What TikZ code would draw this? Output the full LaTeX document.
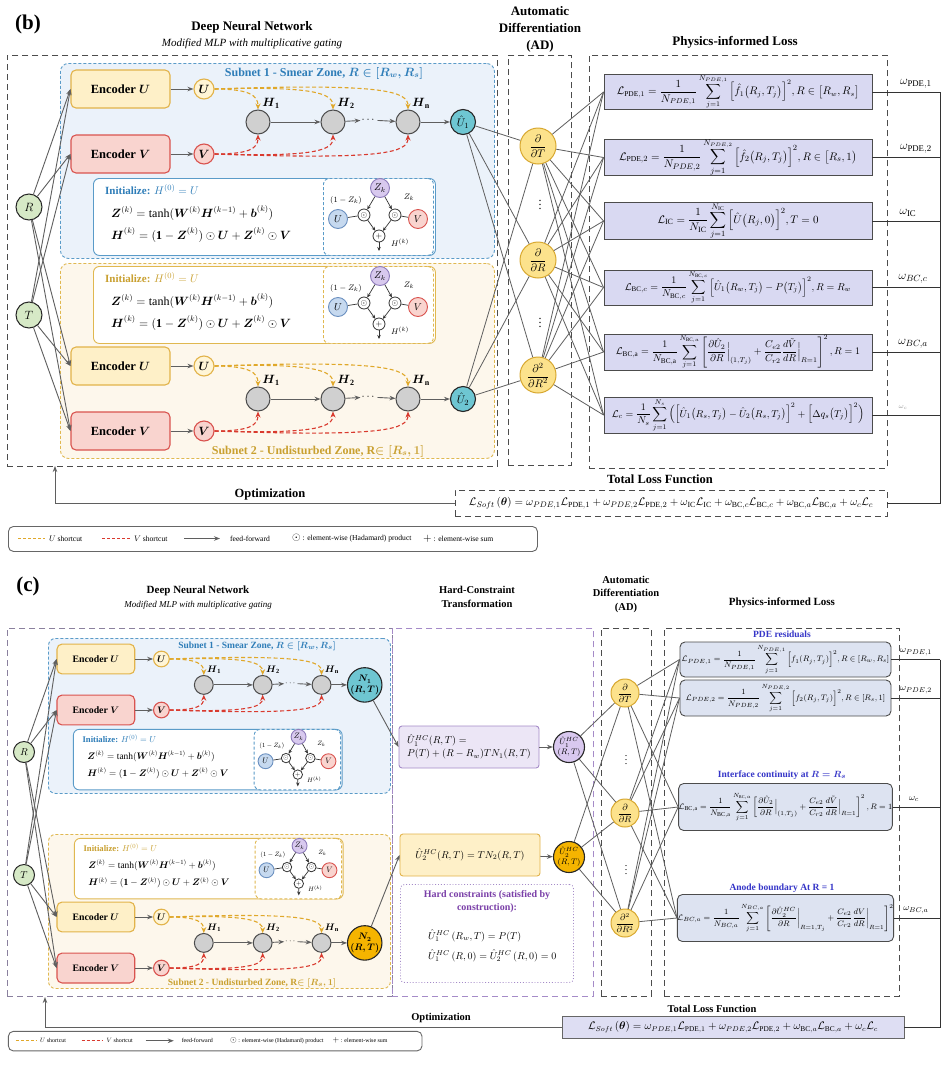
\documentclass[tikz,border=0pt]{standalone}
\usepackage{amsmath,amssymb}
\usepackage{fontspec}
\setmainfont{Liberation Serif}
\usetikzlibrary{arrows.meta,calc}

\definecolor{encUfill}{HTML}{FEF0C8}
\definecolor{encUdraw}{HTML}{E2B34A}
\definecolor{ucfill}{HTML}{FFF5D6}
\definecolor{encVfill}{HTML}{F9D4CF}
\definecolor{encVdraw}{HTML}{D9534F}
\definecolor{sub1fill}{HTML}{EBF2FA}
\definecolor{sub1draw}{HTML}{5A9BC8}
\definecolor{sub1text}{HTML}{2E7DB8}
\definecolor{sub2fill}{HTML}{FDF7EC}
\definecolor{sub2draw}{HTML}{E0B850}
\definecolor{sub2text}{HTML}{C9A030}
\definecolor{hgray}{HTML}{D0D0D0}
\definecolor{teal1}{HTML}{6EC6D2}
\definecolor{adfill}{HTML}{FCE28C}
\definecolor{addraw}{HTML}{D8A830}
\definecolor{lossbfill}{HTML}{D9D9F2}
\definecolor{losscfill}{HTML}{DDE3F1}
\definecolor{zfill}{HTML}{D8C9EE}
\definecolor{zdraw}{HTML}{8E7CBB}
\definecolor{gufill}{HTML}{C6D9EF}
\definecolor{gudraw}{HTML}{6B90C0}
\definecolor{ushort}{HTML}{E0A82A}
\definecolor{vshort}{HTML}{D93A2E}
\definecolor{linegray}{HTML}{5F5F5F}
\definecolor{hcpurple}{HTML}{A58BC8}
\definecolor{hcfill}{HTML}{ECE6F6}
\definecolor{hccirc}{HTML}{D9C8EF}
\definecolor{orangeN}{HTML}{F5B400}
\definecolor{headblue}{HTML}{3535C8}
\definecolor{hcttl}{HTML}{7A3FA8}
\definecolor{totcfill}{HTML}{DEDEF3}
\definecolor{dnncdraw}{HTML}{8A809E}
\definecolor{rtfill}{HTML}{D6E9C6}

\tikzset{
 conn/.style={draw=linegray, line width=0.8pt},
 ffarrow/.style={draw=linegray, line width=0.9pt, -{Stealth[length=6pt,width=4.5pt]}},
 ushortline/.style={draw=ushort, line width=1.1pt, dash pattern=on 4pt off 2.5pt, -{Stealth[length=6pt,width=5pt]}},
 vshortline/.style={draw=vshort, line width=1.1pt, dash pattern=on 4pt off 2.5pt, -{Stealth[length=6pt,width=5pt]}},
 encbox/.style={rounded corners=5pt, line width=1.1pt, minimum width=99pt, minimum height=38pt, inner sep=0pt, font=\fontsize{12.5}{14}\selectfont\bfseries},
 encU/.style={encbox, draw=encUdraw, fill=encUfill},
 encV/.style={encbox, draw=encVdraw, fill=encVfill},
 uvc/.style={circle, minimum size=20pt, inner sep=0pt, line width=1.1pt, font=\fontsize{12}{12}\selectfont},
 ucirc/.style={uvc, draw=encUdraw, fill=ucfill},
 vcirc/.style={uvc, draw=encVdraw, fill=encVfill},
 hnode/.style={circle, minimum size=24pt, inner sep=0pt, draw=black!70, fill=hgray, line width=1pt},
 hlabel/.style={font=\fontsize{12}{12}\selectfont, inner sep=0pt},
 dotsnode/.style={inner sep=1pt, font=\fontsize{11}{11}\selectfont},
 outb/.style={circle, minimum size=25pt, inner sep=0pt, draw=black!85, fill=teal1, line width=1.1pt, font=\fontsize{11}{11}\selectfont},
 outc1/.style={circle, minimum size=36pt, inner sep=0pt, draw=black!85, fill=teal1, line width=1.1pt, align=center, font=\fontsize{12}{13}\selectfont},
 outc2/.style={outc1, fill=orangeN},
 initbox/.style={rounded corners=6pt, fill=white, line width=0.9pt, minimum width=342pt, minimum height=77pt},
 gatebox/.style={rounded corners=6pt, fill=white, line width=0.9pt, dash pattern=on 3pt off 2pt, minimum width=110pt, minimum height=77pt},
 inittxt/.style={inner sep=0pt, font=\fontsize{11}{12}\selectfont},
 eqtxt/.style={inner sep=0pt, font=\fontsize{12}{13}\selectfont},
 gcirc/.style={circle, minimum size=19pt, inner sep=0pt, line width=0.9pt, font=\fontsize{10}{10}\selectfont},
 gz/.style={gcirc, draw=zdraw, fill=zfill},
 gu/.style={gcirc, draw=gudraw, fill=gufill},
 gv/.style={gcirc, draw=encVdraw, fill=encVfill},
 gop/.style={circle, minimum size=12pt, inner sep=0pt, draw=black!80, fill=white, line width=0.8pt, font=\fontsize{8}{8}\selectfont},
 gsmall/.style={inner sep=0pt, font=\fontsize{8}{8}\selectfont},
 garrow/.style={draw=black!80, line width=0.7pt, -{Stealth[length=4pt,width=3.5pt]}},
 gline/.style={draw=black!80, line width=0.7pt},
 rtnode/.style={circle, minimum size=26pt, inner sep=0pt, draw=black!85, fill=rtfill, line width=1pt, font=\fontsize{12}{12}\selectfont},
 dashbox/.style={draw=black!70, line width=0.9pt, dash pattern=on 6pt off 4pt},
 ttl/.style={inner sep=0pt, font=\fontsize{13}{17}\selectfont\bfseries, align=center},
 subttl/.style={inner sep=0pt, font=\fontsize{11}{12}\selectfont\itshape},
 panlbl/.style={inner sep=0pt, font=\fontsize{21}{22}\selectfont\bfseries},
 adnode/.style={circle, minimum size=36pt, inner sep=0pt, draw=addraw, fill=adfill, line width=1pt, font=\fontsize{11}{11}\selectfont},
 lossb/.style={draw=black!70, fill=lossbfill, line width=0.9pt, minimum width=268pt, inner sep=0pt},
 lossc/.style={draw=black!70, fill=losscfill, line width=0.9pt, rounded corners=5pt, minimum width=211pt, inner sep=0pt, font=\fontsize{8.5}{9}\selectfont},
 wlabel/.style={inner sep=0pt, font=\fontsize{12.5}{12.5}\selectfont},
 legbox/.style={draw=black!60, line width=0.9pt, rounded corners=5pt, minimum width=529pt, minimum height=25pt, fill=white},
 legtxt/.style={inner sep=0pt, font=\fontsize{7.6}{8}\selectfont},
 boldlbl/.style={inner sep=0pt, font=\fontsize{12.5}{13}\selectfont\bfseries},
}

\newcommand{\SubnetRow}[6]{%
\begin{scope}[shift={(#2,#3)},scale=#4,transform shape]
\node[encU] (#1eu) at (49.5,0) {Encoder $\boldsymbol{U}$};
\node[encV] (#1ev) at (49.5,65) {Encoder $\boldsymbol{V}$};
\node[ucirc] (#1u) at (133,0) {$\boldsymbol{U}$};
\node[vcirc] (#1v) at (133,65) {$\boldsymbol{V}$};
\node[hnode] (#1h1) at (187,33) {};
\node[hnode] (#1h2) at (262,33) {};
\node[hnode] (#1hn) at (337,33) {};
\node[dotsnode] (#1dots) at (298,31) {$\cdots$};
\node[#5] (#1out) at (392,33) {#6};
\node[hlabel] (#1l1) at (200,14) {$\boldsymbol{H}_{\mathbf{1}}$};
\node[hlabel] (#1l2) at (275,14) {$\boldsymbol{H}_{\mathbf{2}}$};
\node[hlabel] (#1ln) at (350,14) {$\boldsymbol{H}_{\mathbf{n}}$};
\draw[ffarrow] (#1eu) -- (#1u);
\draw[ffarrow] (#1ev) -- (#1v);
\draw[ffarrow] (#1h1) -- (#1h2);
\draw[ffarrow] (#1h2) -- (#1dots);
\draw[ffarrow] (#1dots) -- (#1hn);
\draw[ffarrow] (#1hn) -- (#1out);
\draw[ushortline] (#1u.east) .. controls +(35,0) and +(0,-14) .. (#1h1.north);
\draw[ushortline] (#1u.east) .. controls +(100,-3) and +(0,-16) .. (#1h2.north);
\draw[ushortline] (#1u.east) .. controls +(170,-6) and +(0,-18) .. (#1hn.north);
\draw[vshortline] (#1v.east) .. controls +(35,0) and +(0,14) .. (#1h1.south);
\draw[vshortline] (#1v.east) .. controls +(100,3) and +(0,16) .. (#1h2.south);
\draw[vshortline] (#1v.east) .. controls +(170,6) and +(0,18) .. (#1hn.south);
\end{scope}}

\newcommand{\InitBlock}[6]{%
\begin{scope}[shift={(#2,#3)},scale=#4,transform shape]
\node[initbox,draw=#5,anchor=north west] (#1box) at (0,0) {};
\node[gatebox,draw=#5,anchor=north west] (#1gbox) at (230,0) {};
\node[inittxt,anchor=west] (#1ttl) at (12,12) {\textcolor{#6}{\textbf{Initialize:} $H^{(0)}=U$}};
\node[eqtxt,anchor=west] (#1eqa) at (18,35) {$\boldsymbol{Z}^{(k)}=\tanh(\boldsymbol{W}^{(k)}\boldsymbol{H}^{(k-1)}+\boldsymbol{b}^{(k)})$};
\node[eqtxt,anchor=west] (#1eqb) at (18,57) {$\boldsymbol{H}^{(k)}=(\mathbf{1}-\boldsymbol{Z}^{(k)})\odot\boldsymbol{U}+\boldsymbol{Z}^{(k)}\odot\boldsymbol{V}$};
\node[gz] (#1z) at (287,10) {$Z_k$};
\node[gu] (#1u) at (245,41) {$U$};
\node[gv] (#1v) at (325,41) {$V$};
\node[gop] (#1ol) at (271,37) {$\odot$};
\node[gop] (#1or) at (302,37) {$\odot$};
\node[gop] (#1pl) at (286,58) {$+$};
\coordinate (#1end) at (286,73);
\node[gsmall] (#1lz1) at (253,22) {$(1-Z_k)$};
\node[gsmall] (#1lz2) at (316,19) {$Z_k$};
\node[gsmall] (#1lh) at (307,65) {$H^{(k)}$};
\draw[garrow] (#1z) -- (#1ol);
\draw[garrow] (#1z) -- (#1or);
\draw[gline] (#1u) -- (#1ol);
\draw[gline] (#1v) -- (#1or);
\draw[garrow] (#1ol) -- (#1pl);
\draw[garrow] (#1or) -- (#1pl);
\draw[garrow] (#1pl) -- (#1end);
\end{scope}}

\newcommand{\LegendRow}[4]{%
\begin{scope}[shift={(#2,#3)},scale=#4,transform shape]
\node[legbox,anchor=north west] (#1box) at (0,0) {};
\coordinate (#1ua) at (10,12.5);
\coordinate (#1ub) at (37,12.5);
\draw[draw=ushort, line width=0.9pt, dash pattern=on 3pt off 2pt] (#1ua) -- (#1ub);
\node[legtxt,anchor=west] (#1ut) at (41,12.5) {$U$ shortcut};
\coordinate (#1va) at (94,12.5);
\coordinate (#1vb) at (122,12.5);
\draw[draw=vshort, line width=0.9pt, dash pattern=on 3pt off 2pt] (#1va) -- (#1vb);
\node[legtxt,anchor=west] (#1vt) at (126,12.5) {$V$ shortcut};
\coordinate (#1fa) at (176,12.5);
\coordinate (#1fb) at (212,12.5);
\draw[ffarrow] (#1fa) -- (#1fb);
\node[legtxt,anchor=west] (#1ft) at (222,12.5) {feed-forward};
\node[legtxt,anchor=west] (#1pt) at (284,12.5) {{\fontsize{11}{11}\selectfont$\odot$} : element-wise (Hadamard) product};
\node[legtxt,anchor=west] (#1st) at (415,12.5) {{\fontsize{11}{11}\selectfont$+$} : element-wise sum};
\end{scope}}

\begin{document}
\begin{tikzpicture}[x=1pt,y=-1pt]
\useasboundingbox (0,0) rectangle (948,1074);
\fill[white] (0,0) rectangle (948,1074);

% ================= PANEL (b) =================
\node[panlbl] (lblb) at (28,24) {(b)};
\node[ttl] (dnnttlb) at (252,27) {Deep Neural Network};
\node[subttl] (dnnsubb) at (252,44) {Modified MLP with multiplicative gating};
\node[ttl] (adttlb) at (540,29) {Automatic\\Differentiation\\(AD)};
\node[ttl] (pilttlb) at (735,42) {Physics-informed Loss};

\node[dashbox,anchor=north west,minimum width=490pt,minimum height=411pt] (dnnb) at (7,55) {};
\node[dashbox,anchor=north west,minimum width=63pt,minimum height=410pt] (adb) at (508,55) {};
\node[dashbox,anchor=north west,minimum width=298pt,minimum height=413pt] (pilb) at (589,55) {};

\node[draw=sub1draw,fill=sub1fill,line width=0.9pt,dash pattern=on 3pt off 2pt,rounded corners=8pt,anchor=north west,minimum width=434pt,minimum height=195pt] (sub1b) at (60,63) {};
\node[draw=sub2draw,fill=sub2fill,line width=0.9pt,dash pattern=on 3pt off 2pt,rounded corners=8pt,anchor=north west,minimum width=434pt,minimum height=195pt] (sub2b) at (60,263) {};
\node[inner sep=0pt,font=\fontsize{12}{12}\selectfont\bfseries,text=sub1text] (sub1bt) at (324,73) {Subnet 1 - Smear Zone, $\boldsymbol{R\in[R_w,R_s]}$};
\node[inner sep=0pt,font=\fontsize{12}{12}\selectfont\bfseries,text=sub2text] (sub2bt) at (318,451) {Subnet 2 - Undisturbed Zone, R$\boldsymbol{\in[R_s,1]}$};

\SubnetRow{bA}{71}{89}{1}{outb}{$\hat{U}_1$}
\SubnetRow{bB}{71}{366}{1}{outb}{$\hat{U}_2$}
\InitBlock{biA}{93}{178}{1}{sub1draw}{sub1text}
\InitBlock{biB}{93}{266}{1}{sub2draw}{sub2text}

\node[rtnode] (Rb) at (29,207) {$R$};
\node[rtnode] (Tb) at (29,315) {$T$};
\foreach \s in {Rb,Tb} \foreach \e in {bAeu,bAev,bBeu,bBev} \draw[ffarrow] (\s) -- (\e.west);

\node[adnode] (adTb) at (538,146) {$\dfrac{\partial}{\partial T}$};
\node[adnode] (adRb) at (538,260) {$\dfrac{\partial}{\partial R}$};
\node[adnode] (adRRb) at (538,375) {$\dfrac{\partial^2}{\partial R^2}$};
\node[inner sep=0pt,font=\fontsize{12}{12}\selectfont] (vdAb) at (540,202) {$\vdots$};
\node[inner sep=0pt,font=\fontsize{12}{12}\selectfont] (vdBb) at (540,320) {$\vdots$};
\foreach \o in {bAout,bBout} \foreach \a in {adTb,adRb,adRRb} \draw[conn] (\o) -- (\a);

\node[lossb,minimum height=28pt,font=\fontsize{10.6}{11}\selectfont] (lbA) at (738,92) {$\displaystyle \mathcal{L}_{\mathrm{PDE},1}=\frac{1}{N_{PDE,1}}\sum_{j=1}^{N_{PDE,1}}\Big[\hat{f}_1\big(R_j,T_j\big)\Big]^2,R\in\big[R_w,R_s\big]$};
\node[lossb,minimum height=29pt,font=\fontsize{10.8}{11}\selectfont] (lbB) at (738,157.5) {$\displaystyle \mathcal{L}_{\mathrm{PDE},2}=\frac{1}{N_{PDE,2}}\sum_{j=1}^{N_{PDE,2}}\Big[\hat{f}_2\big(R_j,T_j\big)\Big]^2,R\in\big[R_s,1\big)$};
\node[lossb,minimum height=26pt,font=\fontsize{11.4}{12}\selectfont] (lbC) at (738,221) {$\displaystyle \mathcal{L}_{\mathrm{IC}}=\frac{1}{N_{\mathrm{IC}}}\sum_{j=1}^{N_{\mathrm{IC}}}\Big[\hat{U}\big(R_j,0\big)\Big]^2,T=0$};
\node[lossb,minimum height=35pt,font=\fontsize{10}{11}\selectfont] (lbD) at (738,287.5) {$\displaystyle \mathcal{L}_{\mathrm{BC},c}=\frac{1}{N_{\mathrm{BC},c}}\sum_{j=1}^{N_{\mathrm{BC},c}}\Big[\hat{U}_1\big(R_w,T_j\big)-P\big(T_j\big)\Big]^2,R=R_w$};
\node[lossb,minimum height=36pt,font=\fontsize{10.3}{11}\selectfont] (lbE) at (738,352) {$\displaystyle \mathcal{L}_{\mathrm{BC,a}}=\frac{1}{N_{\mathrm{BC,a}}}\sum_{j=1}^{N_{\mathrm{BC},a}}\left[\frac{\partial\hat{U}_2}{\partial R}\Big|_{(1,T_j)}+\frac{C_{e2}}{C_{r2}}\frac{d\tilde{V}}{dR}\Big|_{R=1}\right]^2,R=1$};
\node[lossb,minimum height=36pt,font=\fontsize{10.2}{11}\selectfont] (lbF) at (738,415) {$\displaystyle \mathcal{L}_{c}=\frac{1}{N_s}\sum_{j=1}^{N_s}\Big(\Big[\hat{U}_1\big(R_s,T_j\big)-\hat{U}_2\big(R_s,T_j\big)\Big]^2+\Big[\Delta q_s\big(T_j\big)\Big]^2\Big)$};

\foreach \a in {adTb,adRb,adRRb} \foreach \l in {lbA,lbB,lbC,lbD,lbE,lbF} \draw[conn] (\a) -- (\l.west);

\coordinate (busbt) at (940,92);
\coordinate (busbb) at (940,503);
\foreach \l in {lbA,lbB,lbC,lbD,lbE,lbF} \draw[conn,draw=black!80] (\l.east) -- (\l.east -| busbt);
\node[wlabel] (wbA) at (916,84) {$\omega_{\mathrm{PDE},1}$};
\node[wlabel] (wbB) at (916,149) {$\omega_{\mathrm{PDE},2}$};
\node[wlabel] (wbC) at (908,213) {$\omega_{\mathrm{IC}}$};
\node[wlabel] (wbD) at (913,279) {$\omega_{BC,c}$};
\node[wlabel] (wbE) at (913,344) {$\omega_{BC,a}$};
\node[wlabel,text=black!40,font=\fontsize{7}{7}\selectfont] (wbF) at (903,407) {$\omega_c$};

\node[boldlbl] (totttlb) at (660,479) {Total Loss Function};
\node[draw=black!70,dash pattern=on 6pt off 4pt,line width=0.9pt,fill=white,minimum width=432pt,minimum height=26pt,inner sep=0pt,font=\fontsize{11.2}{12}\selectfont] (totb) at (671,503) {$\mathcal{L}_{Soft}\left(\boldsymbol{\theta}\right)=\omega_{PDE,1}\mathcal{L}_{\mathrm{PDE},1}+\omega_{PDE,2}\mathcal{L}_{\mathrm{PDE},2}+\omega_{\mathrm{IC}}\mathcal{L}_{\mathrm{IC}}+\omega_{\mathrm{BC},c}\mathcal{L}_{\mathrm{BC},c}+\omega_{\mathrm{BC},a}\mathcal{L}_{\mathrm{BC},a}+\omega_c\mathcal{L}_c$};
\draw[conn,draw=black!80] (busbt) -- (busbb) -- (totb.east);
\coordinate (optbend) at (55,466);
\draw[ffarrow] (totb.west) -| (optbend);
\node[boldlbl] (optlb) at (270,494) {Optimization};

\LegendRow{lgb}{8}{526}{1}

% ================= PANEL (c) =================
\node[panlbl] (lblc) at (28,586) {(c)};
\node[ttl,font=\fontsize{11}{13}\selectfont\bfseries] (dnnttlc) at (198,591) {Deep Neural Network};
\node[subttl,font=\fontsize{9}{10}\selectfont\itshape] (dnnsubc) at (198,605) {Modified MLP with multiplicative gating};
\node[ttl,font=\fontsize{10.5}{14}\selectfont\bfseries] (hcttlc) at (477,597) {Hard-Constraint\\Transformation};
\node[ttl,font=\fontsize{10.5}{13.5}\selectfont\bfseries] (adttlc) at (626,594) {Automatic\\Differentiation\\(AD)};
\node[ttl,font=\fontsize{11}{13}\selectfont\bfseries] (pilttlc) at (782,603) {Physics-informed Loss};

\node[dashbox,draw=dnncdraw,anchor=north west,minimum width=385pt,minimum height=368pt] (dnnc) at (7,628) {};
\node[dashbox,draw=hcpurple,anchor=north west,minimum width=201pt,minimum height=368pt] (hcc) at (392,628) {};
\node[dashbox,anchor=north west,minimum width=50pt,minimum height=368pt] (adc) at (601,628) {};
\node[dashbox,anchor=north west,minimum width=235pt,minimum height=368pt] (pilc) at (664,628) {};

\node[draw=sub1draw,fill=sub1fill,line width=0.9pt,dash pattern=on 3pt off 2pt,rounded corners=7pt,anchor=north west,minimum width=342pt,minimum height=155pt] (sub1c) at (48,638) {};
\node[draw=sub2draw,fill=sub2fill,line width=0.9pt,dash pattern=on 3pt off 2pt,rounded corners=7pt,anchor=north west,minimum width=342pt,minimum height=154pt] (sub2c) at (48,834) {};
\node[inner sep=0pt,font=\fontsize{9.5}{10}\selectfont\bfseries,text=sub1text] (sub1ct) at (257,646) {Subnet 1 - Smear Zone, $\boldsymbol{R\in[R_w,R_s]}$};
\node[inner sep=0pt,font=\fontsize{9.5}{10}\selectfont\bfseries,text=sub2text] (sub2ct) at (252,983) {Subnet 2 - Undisturbed Zone, R$\boldsymbol{\in[R_s,1]}$};

\SubnetRow{cA}{57}{659}{0.785}{outc1}{$\boldsymbol{N_1}$\\$\boldsymbol{(R,T)}$}
\SubnetRow{cB}{57}{917}{0.785}{outc2}{$\boldsymbol{N_2}$\\$\boldsymbol{(R,T)}$}
\InitBlock{ciA}{73}{729}{0.786}{sub1draw}{sub1text}
\InitBlock{ciB}{74}{838}{0.786}{sub2draw}{sub2text}

\node[rtnode,minimum size=21pt,font=\fontsize{10}{10}\selectfont] (Rc) at (24,752) {$R$};
\node[rtnode,minimum size=21pt,font=\fontsize{10}{10}\selectfont] (Tc) at (24,875) {$T$};
\foreach \s in {Rc,Tc} \foreach \e in {cAeu,cAev,cBeu,cBev} \draw[ffarrow] (\s) -- (\e.west);

% hard constraint
\node[draw=hcpurple,fill=hcfill,line width=0.9pt,rounded corners=3pt,minimum width=140pt,minimum height=42pt,align=left,inner sep=0pt,font=\fontsize{10}{13}\selectfont] (hcA) at (469,747) {$\hat{U}_1^{HC}(R,T)=$\\$P(T)+(R-R_w)TN_1(R,T)$};
\node[draw=encUdraw,fill=encUfill,line width=0.9pt,rounded corners=3pt,minimum width=140pt,minimum height=42pt,inner sep=0pt,font=\fontsize{10}{12}\selectfont] (hcB) at (470,855) {$\hat{U}_2^{HC}(R,T)=TN_2(R,T)$};
\node[circle,draw=black!85,fill=hccirc,line width=1.1pt,minimum size=31pt,inner sep=0pt,align=center,font=\fontsize{8.5}{10}\selectfont] (hcAc) at (569,747) {$\hat{U}_1^{HC}$\\$(R,T)$};
\node[circle,draw=black!85,fill=orangeN,line width=1.1pt,minimum size=31pt,inner sep=0pt,align=center,font=\fontsize{8.5}{10}\selectfont] (hcBc) at (569,857) {$\hat{U}_2^{HC}$\\$(R,T)$};
\draw[ffarrow] (cAout) -- (hcA.west);
\draw[ffarrow] (cBout) -- (hcB.west);
\draw[ffarrow] (hcA) -- (hcAc);
\draw[ffarrow] (hcB) -- (hcBc);
\node[draw=hcpurple,line width=0.9pt,dotted,rounded corners=4pt,anchor=north west,minimum width=173pt,minimum height=98pt] (hcnote) at (400,884) {};
\node[inner sep=0pt,align=center,text=hcttl,font=\fontsize{10}{13}\selectfont\bfseries] (hcnt) at (487,902) {Hard constraints (satisfied by\\construction):};
\node[inner sep=0pt,anchor=west,font=\fontsize{10}{11}\selectfont] (hcnA) at (428,936) {$\hat{U}_1^{HC}\left(R_w,T\right)=P(T)$};
\node[inner sep=0pt,anchor=west,font=\fontsize{10}{11}\selectfont] (hcnB) at (428,956) {$\hat{U}_1^{HC}\left(R,0\right)=\hat{U}_2^{HC}\left(R,0\right)=0$};

% AD (c)
\node[adnode,minimum size=28pt,font=\fontsize{9}{9}\selectfont] (adTc) at (625,693) {$\dfrac{\partial}{\partial T}$};
\node[adnode,minimum size=28pt,font=\fontsize{9}{9}\selectfont] (adRc) at (625,813) {$\dfrac{\partial}{\partial R}$};
\node[adnode,minimum size=28pt,font=\fontsize{9}{9}\selectfont] (adRRc) at (625,923) {$\dfrac{\partial^2}{\partial R^2}$};
\node[inner sep=0pt,font=\fontsize{10}{10}\selectfont] (vdAc) at (626,757) {$\vdots$};
\node[inner sep=0pt,font=\fontsize{10}{10}\selectfont] (vdBc) at (626,867) {$\vdots$};
\foreach \o in {hcAc,hcBc} \foreach \a in {adTc,adRc,adRRc} \draw[conn] (\o) -- (\a);

% losses (c)
\node[inner sep=0pt,text=headblue,font=\fontsize{9.5}{10}\selectfont\bfseries] (hdA) at (782,634) {PDE residuals};
\node[lossc,minimum height=35pt] (lcA) at (785.5,659.5) {$\displaystyle \mathcal{L}_{PDE,1}=\frac{1}{N_{PDE,1}}\sum_{j=1}^{N_{PDE,1}}\Big[f_1(R_j,T_j)\Big]^2,R\in[R_w,R_s]$};
\node[lossc,minimum height=36pt] (lcB) at (785.5,698) {$\displaystyle \mathcal{L}_{PDE,2}=\frac{1}{N_{PDE,2}}\sum_{j=1}^{N_{PDE,2}}\Big[f_2(R_j,T_j)\Big]^2,R\in[R_s,1]$};
\node[inner sep=0pt,text=headblue,font=\fontsize{9.5}{10}\selectfont\bfseries] (hdB) at (782,775) {Interface continuity at $\boldsymbol{R=R_s}$};
\node[lossc,minimum height=47pt] (lcC) at (785.5,807) {$\displaystyle \mathcal{L}_{\mathrm{BC,a}}=\frac{1}{N_{\mathrm{BC,a}}}\sum_{j=1}^{N_{\mathrm{BC},a}}\left[\frac{\partial\hat{U}_2}{\partial R}\Big|_{(1,T_j)}+\frac{C_{e2}}{C_{r2}}\frac{d\tilde{V}}{dR}\Big|_{R=1}\right]^2,R=1$};
\node[inner sep=0pt,text=headblue,font=\fontsize{9.5}{10}\selectfont\bfseries] (hdC) at (782,888) {Anode boundary At R = 1};
\node[lossc,minimum height=47pt] (lcD) at (785.5,918) {$\displaystyle \mathcal{L}_{BC,a}=\frac{1}{N_{BC,a}}\sum_{j=1}^{N_{BC,a}}\left[\frac{\partial\hat{U}_2^{HC}}{\partial R}\bigg|_{R=1,T_j}+\frac{C_{e2}}{C_{r2}}\frac{dV}{dR}\bigg|_{R=1}\right]^2$};

\foreach \a in {adTc,adRc,adRRc} \foreach \l in {lcA,lcB,lcC,lcD} \draw[conn] (\a) -- (\l.west);

\coordinate (busct) at (940,659.5);
\coordinate (buscb) at (940,1027);
\foreach \l in {lcA,lcB,lcC,lcD} \draw[conn,draw=black!80] (\l.east) -- (\l.east -| busct);
\node[wlabel,font=\fontsize{9.5}{9.5}\selectfont] (wcA) at (916,652) {$\omega_{PDE,1}$};
\node[wlabel,font=\fontsize{9.5}{9.5}\selectfont] (wcB) at (916,690) {$\omega_{PDE,2}$};
\node[wlabel,font=\fontsize{9.5}{9.5}\selectfont] (wcC) at (914,799) {$\omega_c$};
\node[wlabel,font=\fontsize{9.5}{9.5}\selectfont] (wcD) at (916,910) {$\omega_{BC,a}$};

\node[boldlbl,font=\fontsize{10.5}{11}\selectfont\bfseries] (totttlc) at (712,1009) {Total Loss Function};
\node[draw=black!60,fill=totcfill,line width=0.9pt,minimum width=342pt,minimum height=22pt,inner sep=0pt,font=\fontsize{10.5}{11}\selectfont] (totc) at (733,1027) {$\mathcal{L}_{Soft}\left(\boldsymbol{\theta}\right)=\omega_{PDE,1}\mathcal{L}_{\mathrm{PDE},1}+\omega_{PDE,2}\mathcal{L}_{\mathrm{PDE},2}+\omega_{\mathrm{BC},a}\mathcal{L}_{\mathrm{BC},a}+\omega_c\mathcal{L}_c$};
\draw[conn,draw=black!80] (busct) -- (buscb) -- (totc.east);
\coordinate (optcend) at (45,997);
\draw[ffarrow] (totc.west) -| (optcend);
\node[boldlbl,font=\fontsize{10.5}{11}\selectfont\bfseries] (optlc) at (441,1018) {Optimization};

\LegendRow{lgc}{8}{1031}{0.782}
\end{tikzpicture}
\end{document}
